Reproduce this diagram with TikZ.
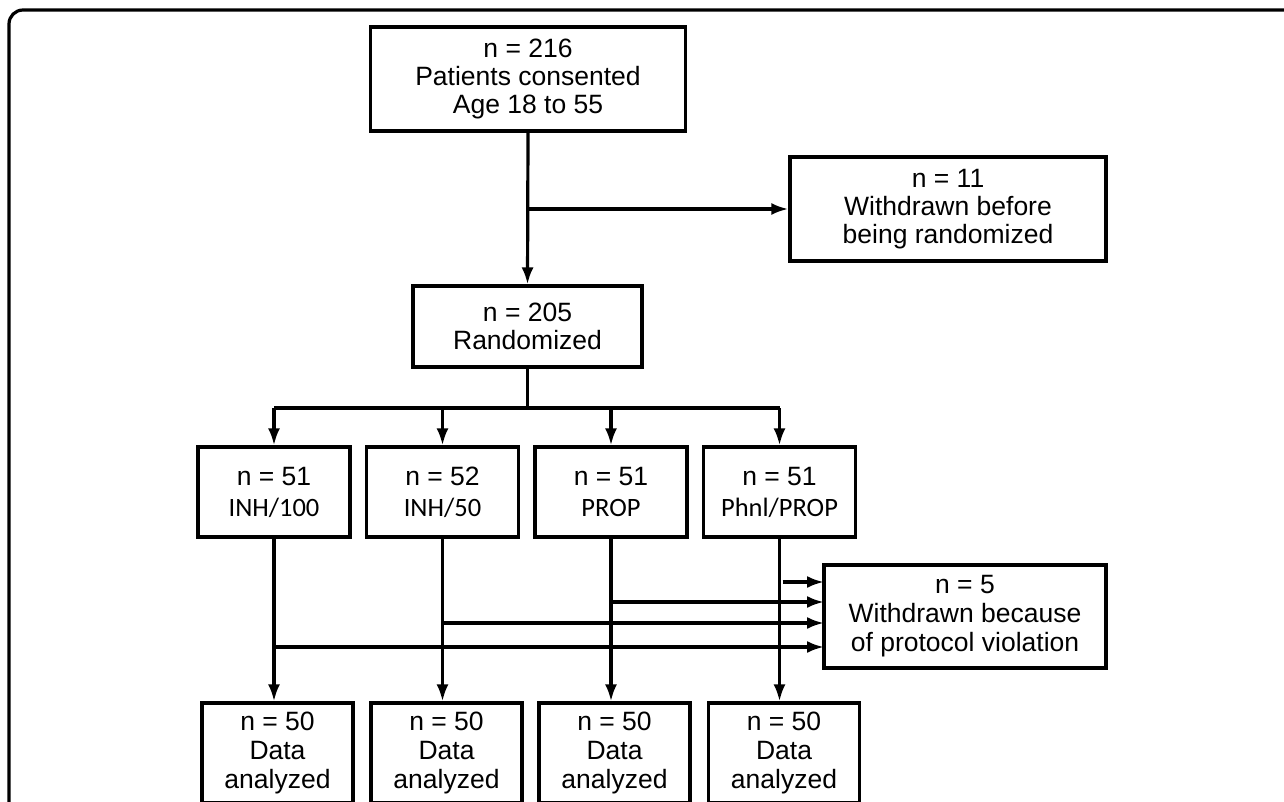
\documentclass[tikz,border=0pt]{standalone}
\usepackage{fontspec}
\setmainfont{Liberation Sans}
\newfontfamily\calib{Carlito}
\usetikzlibrary{arrows.meta}
\begin{document}
\begin{tikzpicture}[x=1pt,y=-1pt,
  box/.style={draw, line width=3.2pt, inner sep=0pt, align=center, font=\fontsize{26.5}{28}\selectfont},
  midbox/.style={box, minimum width=152pt, minimum height=90pt, font=\fontsize{26.5}{31}\selectfont},
  databox/.style={box, minimum width=151pt, minimum height=100pt, font=\fontsize{26.5}{29}\selectfont},
  arr/.style={line width=3.2pt, -{Latex[length=17pt,width=12pt]}},
  ln/.style={line width=3.2pt}]
\useasboundingbox (0,0) rectangle (1284,802);
\clip (0,0) rectangle (1284,802);
\draw[line width=3.2pt, rounded corners=14pt] (1300,10) -- (9,10) -- (9,830);
% nodes
\node[box, minimum width=315pt, minimum height=104pt] (top) at (528,79) {n = 216\\Patients consented\\Age 18 to 55};
\node[box, minimum width=316pt, minimum height=104pt] (b11) at (948,209) {n = 11\\Withdrawn before\\being randomized};
\node[box, minimum width=229pt, minimum height=81pt] (rand) at (527.5,326.5) {n = 205\\Randomized};
\node[midbox] (m1) at (274,492) {n = 51\\{\calib INH/100}};
\node[midbox] (m2) at (442.5,492) {n = 52\\{\calib INH/50}};
\node[midbox] (m3) at (611,492) {n = 51\\{\calib PROP}};
\node[midbox] (m4) at (779.5,492) {n = 51\\{\calib Phnl/PROP}};
\node[box, minimum width=282pt, minimum height=103pt, font=\fontsize{26.5}{29}\selectfont] (b5) at (965,616.5) {n = 5\\Withdrawn because\\of protocol violation};
\node[databox] (d1) at (277.5,753) {n = 50\\Data\\analyzed};
\node[databox] (d2) at (446.5,753) {n = 50\\Data\\analyzed};
\node[databox] (d3) at (614.5,753) {n = 50\\Data\\analyzed};
\node[databox] (d4) at (784,753) {n = 50\\Data\\analyzed};
% connectors
\coordinate (br) at (527.5,408);
\coordinate (w1) at (824,582);
\coordinate (w2) at (824,602);
\coordinate (w3) at (824,623);
\coordinate (w4) at (824,647);
\draw[arr] (top.south) -- (rand.north);
\draw[arr] (top.south |- b11.west) -- (b11.west);
\draw[ln] (rand.south) -- (br);
\draw[ln] (m1.north |- br) -- (m4.north |- br);
\foreach \m in {m1,m2,m3,m4}{\draw[arr] (\m.north |- br) -- (\m.north);}
\draw[arr] (m1.south) -- (m1.south |- d1.north);
\draw[arr] (m2.south) -- (m2.south |- d2.north);
\draw[arr] (m3.south) -- (m3.south |- d3.north);
\draw[arr] (m4.south) -- (m4.south |- d4.north);
\draw[arr] ([xshift=3pt]m4.south |- w1) -- (w1);
\draw[arr] (m3.south |- w2) -- (w2);
\draw[arr] (m2.south |- w3) -- (w3);
\draw[arr] (m1.south |- w4) -- (w4);
\end{tikzpicture}
\end{document}
